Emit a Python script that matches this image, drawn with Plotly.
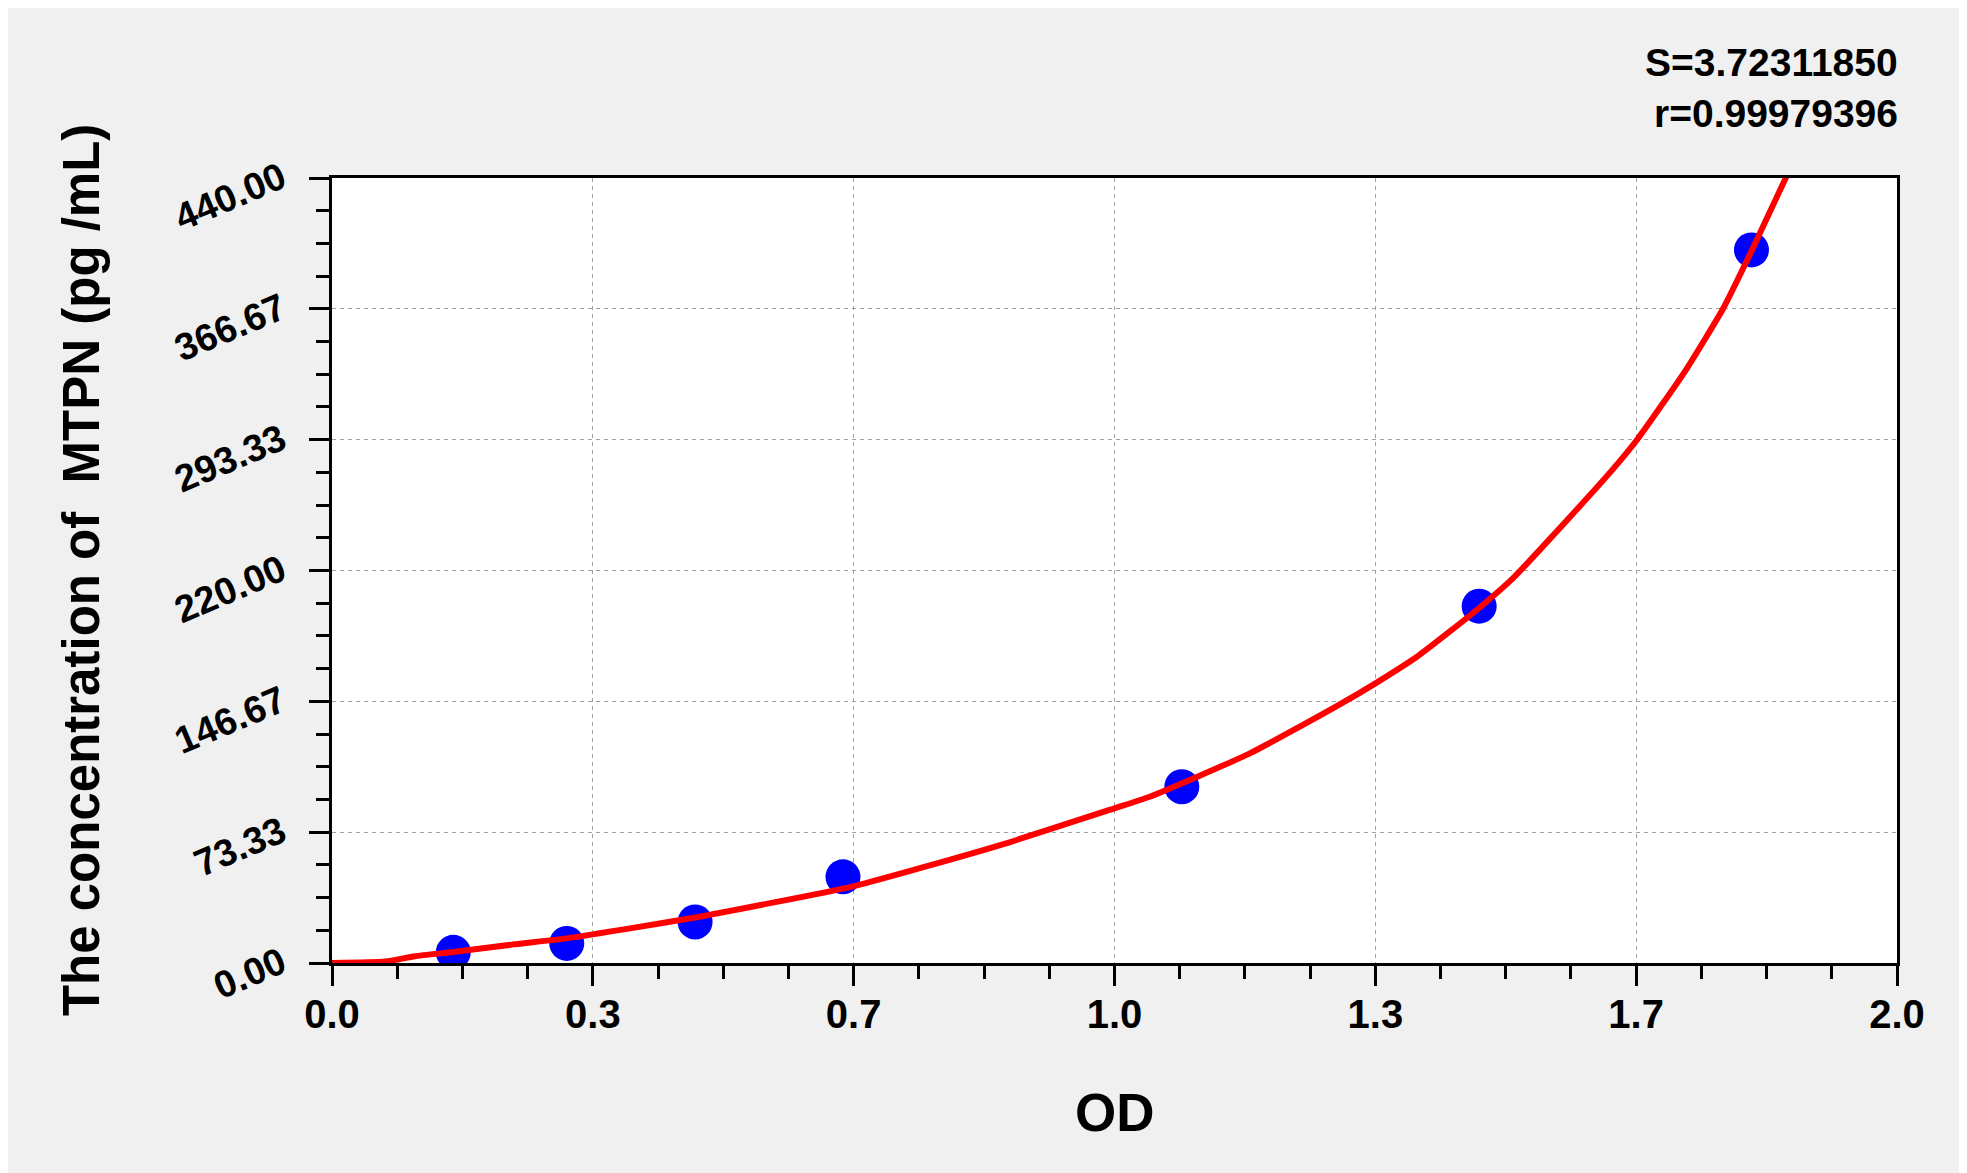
import plotly.graph_objects as go

# standard points
od = [0.155, 0.300, 0.464, 0.653, 1.086, 1.466, 1.814]
conc = [6.0, 11.0, 23.0, 48.3, 98.8, 200.0, 399.7]

# fitted curve
curve_od = [0.0, 0.068, 0.106, 0.155, 0.230, 0.300, 0.375, 0.464, 0.667, 0.854,
            1.0, 1.045, 1.173, 1.284, 1.334, 1.386, 1.429, 1.466, 1.510, 1.557,
            1.637, 1.669, 1.731, 1.778, 1.814, 1.861]
curve_conc = [0.0, 0.8, 3.8, 6.2, 10.3, 13.8, 19.0, 25.5, 43.1, 66.1,
              86.7, 93.2, 117.5, 144.0, 156.9, 171.5, 186.0, 199.0, 216.0, 238.0,
              276.8, 294.0, 332.9, 367.0, 399.0, 443.0]

x_tickvals = [0.0, 1 / 3, 2 / 3, 1.0, 4 / 3, 5 / 3, 2.0]
x_ticktext = ["0.0", "0.3", "0.7", "1.0", "1.3", "1.7", "2.0"]
y_tickvals = [0.0, 73.33, 146.67, 220.0, 293.33, 366.67, 440.0]
y_ticktext = ["0.00", "73.33", "146.67", "220.00", "293.33", "366.67", "440.00"]

FONT = "Liberation Sans, Arial, sans-serif"

fig = go.Figure()

fig.add_trace(go.Scatter(
    x=od, y=conc, mode="markers",
    marker=dict(color="#0000FF", size=35, line=dict(width=0)),
    showlegend=False,
))

fig.add_trace(go.Scatter(
    x=curve_od, y=curve_conc, mode="lines",
    line=dict(color="#FF0000", width=6, shape="spline", smoothing=0.5),
    showlegend=False,
))

axis_common = dict(
    showline=True, linecolor="black", linewidth=3, mirror=True,
    ticks="outside", ticklen=20, tickwidth=2.5, tickcolor="black",
    showgrid=True, gridcolor="#a0a0a0", gridwidth=1.3, griddash="4px,4px",
    zeroline=False,
)

fig.update_xaxes(
    range=[0, 2], tickmode="array", tickvals=x_tickvals, ticktext=x_ticktext,
    tickfont=dict(family=FONT, size=40, color="black", weight="bold"),
    ticklabelstandoff=-6,
    minor=dict(dtick=1 / 12, tick0=0, ticks="outside", ticklen=13,
               tickwidth=2.5, tickcolor="black", showgrid=False),
    **axis_common,
)
fig.update_yaxes(
    range=[0, 440], tickmode="array", tickvals=y_tickvals, ticktext=y_ticktext,
    tickangle=-23,
    tickfont=dict(family=FONT, size=38, color="black", weight="bold"),
    ticklabelstandoff=20, ticklabelshift=-4,
    minor=dict(dtick=440 / 24, tick0=0, ticks="outside", ticklen=13,
               tickwidth=2.5, tickcolor="black", showgrid=False),
    **axis_common,
)

fig.add_annotation(
    text="The concentration of  MTPN (pg /mL)", textangle=-90,
    xref="paper", yref="paper", x=-0.16, y=0.5,
    xanchor="center", yanchor="middle", showarrow=False,
    font=dict(family=FONT, size=51, color="black", weight="bold"),
)
fig.add_annotation(
    text="OD", xref="paper", yref="paper", x=0.5, y=-0.191,
    xanchor="center", yanchor="middle", showarrow=False,
    font=dict(family=FONT, size=53, color="black", weight="bold"),
)
fig.add_annotation(
    text="S=3.72311850", xref="paper", yref="paper", x=1.002, y=1.1465,
    xanchor="right", yanchor="middle", showarrow=False,
    font=dict(family=FONT, size=39, color="black", weight="bold"),
)
fig.add_annotation(
    text="r=0.99979396", xref="paper", yref="paper", x=1.002, y=1.0828,
    xanchor="right", yanchor="middle", showarrow=False,
    font=dict(family=FONT, size=39, color="black", weight="bold"),
)

# the page body adds an 8px offset, so the margins are shifted to compensate
fig.update_layout(
    width=1967, height=1173,
    margin=dict(l=324, r=78, t=170, b=218),
    paper_bgcolor="#F0F0F0", plot_bgcolor="white",
    font=dict(family=FONT, color="black"),
)

fig.write_html("out.html")
